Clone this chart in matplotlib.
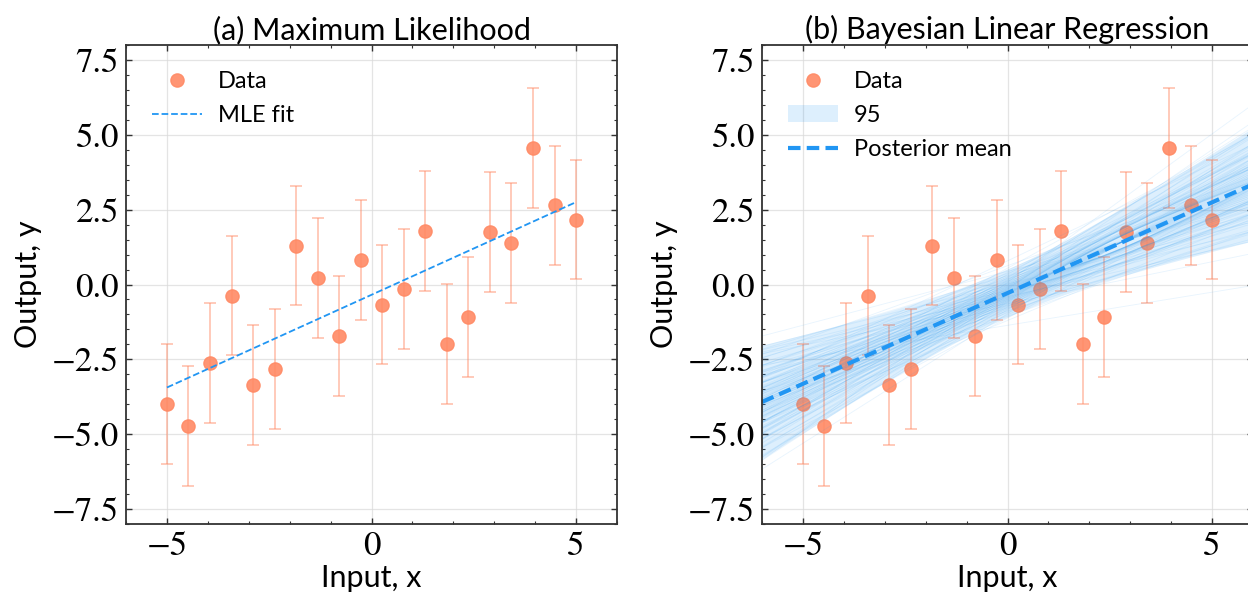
import numpy as np
import matplotlib
matplotlib.use("Agg")
import matplotlib.pyplot as plt
from matplotlib.ticker import MultipleLocator
from statistics import NormalDist

# data
x_data = np.linspace(-5, 5, 20)
y_data = [-4.0, -4.73, -2.63, -0.37, -3.36, -2.83, 1.30, 0.22, -1.72, 0.82,
          -0.67, -0.14, 1.79, -1.98, -1.08, 1.76, 1.39, 4.56, 2.64, 2.17]
y_err = 2.0

# model settings
noise_sd = 2.0
prior_prec = 1.0
n_samples = 120

orange = '#FF8A65'
blue = '#2196F3'
sans = ['Lato', 'DejaVu Sans']
serif = 'STIXGeneral'

plt.rcParams['font.family'] = sans
plt.rcParams['axes.unicode_minus'] = True

y = np.array(y_data)

# MLE fit
Phi = np.column_stack([np.ones_like(x_data), x_data])
w_mle = np.linalg.lstsq(Phi, y, rcond=None)[0]

# Bayesian posterior
S = np.linalg.inv(prior_prec * np.eye(2) + Phi.T @ Phi / noise_sd**2)
m = S @ Phi.T @ y / noise_sd**2

x_grid = np.linspace(-6, 6, 200)
Phi_g = np.column_stack([np.ones_like(x_grid), x_grid])
mean_g = Phi_g @ m
sd_g = np.sqrt(np.einsum('ij,jk,ik->i', Phi_g, S, Phi_g))

# deterministic posterior draws (quantile grid, shuffled pairing)
nd = NormalDist()
q = [nd.inv_cdf((i + 0.5) / n_samples) for i in range(n_samples)]
z1 = np.array(q)
z2 = np.array([q[(i * 47) % n_samples] for i in range(n_samples)])
L = np.linalg.cholesky(S)
w_samp = m[:, None] + L @ np.vstack([z1, z2])

fig = plt.figure(figsize=(12.48, 5.94), dpi=100)
ax1 = fig.add_axes([0.101, 0.1178, 0.3934, 0.8064])
ax2 = fig.add_axes([0.6106, 0.1178, 0.3934, 0.8064])


def style(ax, title):
    ax.set_xlim(-6, 6)
    ax.set_ylim(-8, 8)
    ax.xaxis.set_major_locator(MultipleLocator(5))
    ax.xaxis.set_minor_locator(MultipleLocator(1))
    ax.yaxis.set_major_locator(MultipleLocator(2.5))
    ax.yaxis.set_minor_locator(MultipleLocator(0.5))
    ax.tick_params(which='both', direction='in', top=True, right=True, color='#333333')
    ax.tick_params(which='major', length=4, width=1)
    ax.tick_params(which='minor', length=2, width=0.8)
    ax.tick_params(labelsize=25, pad=5)
    for lab in ax.get_xticklabels() + ax.get_yticklabels():
        lab.set_fontfamily(serif)
    for sp in ax.spines.values():
        sp.set_color('#333333')
        sp.set_linewidth(1.3)
    ax.grid(True, color='#d9d9d9', alpha=0.7, lw=0.9)
    ax.set_axisbelow(True)
    ax.set_xlabel('Input, x', fontsize=22, labelpad=1)
    ax.set_ylabel('Output, y', fontsize=22, labelpad=7)
    ax.set_title(title, fontsize=22, pad=4)


def legend(ax):
    ax.legend(loc='upper left', frameon=False, fontsize=17, handlelength=2.1,
              borderaxespad=0.7, labelspacing=0.55, handletextpad=0.7)


# (a) maximum likelihood
ax1.errorbar(x_data, y, yerr=y_err, fmt='none', ecolor=orange, alpha=0.45,
             elinewidth=1.4, capsize=4, capthick=1.4)
ax1.plot(x_data, y, 'o', color=orange, ms=9.5, alpha=0.9, label='Data')
ax1.plot(x_data, Phi @ w_mle, '--', color=blue, lw=1.3, label='MLE fit')
style(ax1, '(a) Maximum Likelihood')
legend(ax1)

# (b) Bayesian linear regression
ax2.errorbar(x_data, y, yerr=y_err, fmt='none', ecolor=orange, alpha=0.45,
             elinewidth=1.4, capsize=4, capthick=1.4)
ax2.plot(x_data, y, 'o', color=orange, ms=9.5, alpha=0.9, label='Data')
for k in range(n_samples):
    ax2.plot(x_grid, Phi_g @ w_samp[:, k], color=blue, lw=0.6, alpha=0.1)
ax2.fill_between(x_grid, mean_g - 1.96 * sd_g, mean_g + 1.96 * sd_g,
                 color=blue, alpha=0.15, lw=0, label='95')
ax2.plot(x_grid, mean_g, color=blue, lw=3, dashes=(3, 1.5), label='Posterior mean')
style(ax2, '(b) Bayesian Linear Regression')
legend(ax2)

fig.savefig('out.png', dpi=100)
